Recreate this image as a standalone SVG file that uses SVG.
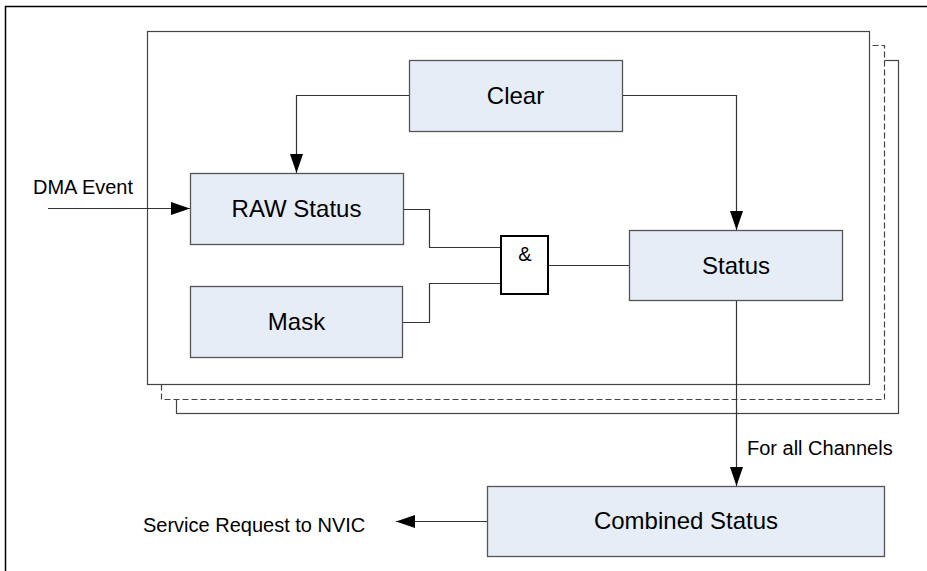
<svg xmlns="http://www.w3.org/2000/svg" width="927" height="571" viewBox="0 0 927 571">
<style>
.box{fill:#e7edf7;stroke:#555555;stroke-width:1.3}
.lbl{font-family:"Liberation Sans",Arial,sans-serif;font-size:24px;fill:#000;text-anchor:middle}
.sm{font-family:"Liberation Sans",Arial,sans-serif;font-size:20px;fill:#000}
.con{fill:none;stroke:#333333;stroke-width:1.2}
.frame{fill:#fff;stroke:#444;stroke-width:1.2}
</style>
<defs>
<marker id="arr" markerUnits="userSpaceOnUse" markerWidth="20" markerHeight="14" refX="19" refY="6.5" orient="auto">
<path d="M0,0 L19,6.5 L0,13 Z" fill="#000"/>
</marker>
</defs>
<rect width="927" height="571" fill="#fff"/>
<rect x="5.5" y="6.5" width="930" height="580" fill="none" stroke="#000" stroke-width="1.5"/>
<g id="frames">
<rect x="176.5" y="60.5" width="722" height="353" class="frame" stroke="#666"/>
<rect x="161.5" y="45.5" width="723" height="354" class="frame" stroke="#000" stroke-width="1.6" stroke-dasharray="6,3"/>
<rect x="147.5" y="31.5" width="722" height="353" class="frame" stroke="#222"/>
</g>
<g id="connectors">
<path class="con" d="M409,95.5 H296.5 V173" marker-end="url(#arr)"/>
<path class="con" d="M622,95.5 H736.5 V230" marker-end="url(#arr)"/>
<path class="con" d="M48,208.5 H190" marker-end="url(#arr)"/>
<path class="con" d="M403,209.5 H429.5 V247.5 H501"/>
<path class="con" d="M402,322.5 H429.5 V283.5 H501"/>
<path class="con" d="M548,265.5 H629"/>
<path class="con" d="M736.5,300 V486" marker-end="url(#arr)"/>
<path class="con" d="M488,521.5 H396" marker-end="url(#arr)"/>
</g>
<g id="clear">
<rect class="box" x="409.5" y="60.5" width="213" height="71"/>
<text class="lbl" x="515.5" y="104">Clear</text>
</g>
<g id="raw-status">
<rect class="box" x="190.5" y="173.5" width="213" height="71"/>
<text class="lbl" x="296.5" y="217">RAW Status</text>
</g>
<g id="mask">
<rect class="box" x="190.5" y="286.5" width="212" height="71"/>
<text class="lbl" x="296.5" y="330">Mask</text>
</g>
<g id="and-gate">
<rect x="501" y="236" width="47" height="58" fill="#fff" stroke="#000" stroke-width="2"/>
<text class="sm" x="525" y="261" text-anchor="middle">&amp;</text>
</g>
<g id="status">
<rect class="box" x="629.5" y="230.5" width="213" height="70"/>
<text class="lbl" x="736" y="274">Status</text>
</g>
<g id="combined-status">
<rect class="box" x="487.5" y="486.5" width="397" height="70"/>
<text class="lbl" x="686" y="529">Combined Status</text>
</g>
<g id="labels">
<text class="sm" x="33" y="194">DMA Event</text>
<text class="sm" x="747" y="455">For all Channels</text>
<text class="sm" x="143" y="532">Service Request to NVIC</text>
</g>
</svg>
